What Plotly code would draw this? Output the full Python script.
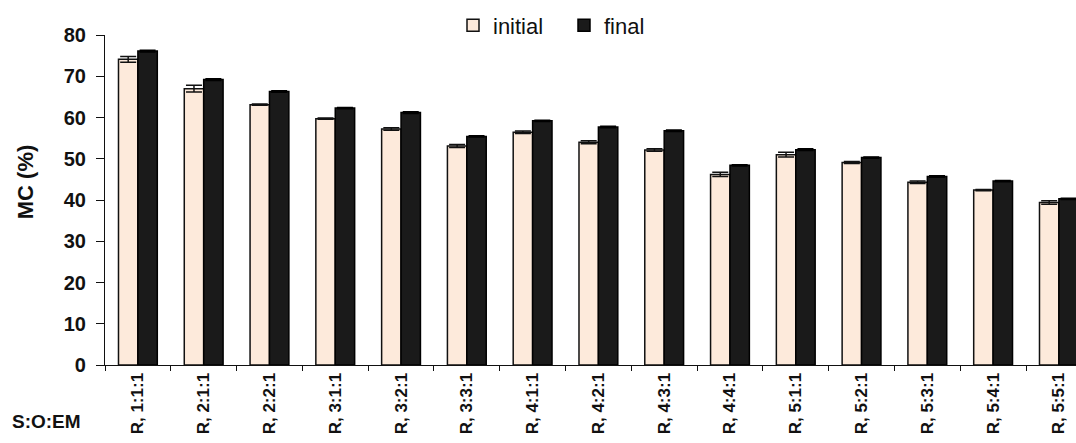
import plotly.graph_objects as go

categories = ["R, 1:1:1", "R, 2:1:1", "R, 2:2:1", "R, 3:1:1", "R, 3:2:1", "R, 3:3:1",
              "R, 4:1:1", "R, 4:2:1", "R, 4:3:1", "R, 4:4:1", "R, 5:1:1", "R, 5:2:1",
              "R, 5:3:1", "R, 5:4:1", "R, 5:5:1"]
initial = [74.1, 67.0, 63.1, 59.7, 57.2, 53.1, 56.4, 54.0, 52.1, 46.2, 51.0, 49.1, 44.3, 42.4, 39.4]
initial_err = [0.7, 0.8, 0.15, 0.15, 0.3, 0.35, 0.3, 0.35, 0.3, 0.5, 0.6, 0.25, 0.3, 0.15, 0.4]
final = [76.1, 69.2, 66.3, 62.3, 61.2, 55.4, 59.2, 57.7, 56.8, 48.4, 52.2, 50.3, 45.7, 44.6, 40.3]
final_err = [0.2, 0.2, 0.2, 0.15, 0.2, 0.15, 0.15, 0.2, 0.2, 0.15, 0.2, 0.15, 0.2, 0.15, 0.15]

L, T, B = 105, 34.5, 78
W, H = 1076, 443
pw = W - L
ph = H - T - B

def px(x):
    return (x - L) / pw

def py(y):
    return (H - B - y) / ph

fig = go.Figure()
fig.add_trace(go.Bar(
    x=categories, y=initial, name="initial",
    marker=dict(color="#FDEADB", line=dict(color="#111111", width=1.5)),
    error_y=dict(type="data", array=initial_err, color="#111111", thickness=1.5, width=8),
))
fig.add_trace(go.Bar(
    x=categories, y=final, name="final",
    marker=dict(color="#1a1a1a", line=dict(color="#000000", width=1.5)),
    error_y=dict(type="data", array=final_err, color="#000000", thickness=1.5, width=8),
))

fig.update_layout(
    width=W, height=H,
    margin=dict(l=L, r=0, t=T, b=B, pad=0, autoexpand=False),
    paper_bgcolor="white", plot_bgcolor="white",
    barmode="group", bargap=0.41, bargroupgap=0,
    font=dict(family="Liberation Sans, Arial, sans-serif", color="#111111"),
    showlegend=True,
    legend=dict(orientation="h", x=px(453), y=py(25), xanchor="left", yanchor="middle",
                font=dict(size=22, color="#111111"), bgcolor="rgba(0,0,0,0)",
                entrywidth=66, entrywidthmode="pixels", traceorder="normal"),
    annotations=[
        dict(text="<b>MC (%)</b>", x=px(25), y=py(182), xref="paper", yref="paper",
             showarrow=False, textangle=-90, font=dict(size=22, color="#111111"),
             xanchor="center", yanchor="middle"),
        dict(text="<b>S:O:EM</b>", x=px(46), y=py(422), xref="paper", yref="paper",
             showarrow=False, font=dict(size=19, color="#111111"),
             xanchor="center", yanchor="middle"),
    ],
)
fig.update_xaxes(
    range=[-0.5, 14.26], showline=True, linecolor="#111111", linewidth=1.2,
    ticks="outside", ticklen=5, tickcolor="#111111", tickwidth=1.2, tickson="boundaries",
    tickangle=-90, tickfont=dict(size=17, family="Liberation Sans, Arial", color="#111111", weight="bold"),
    showgrid=False, zeroline=False, automargin=False,
)
fig.update_yaxes(
    range=[0, 80], dtick=10, showline=True, linecolor="#111111", linewidth=1.2,
    ticks="outside", ticklen=8, tickcolor="#111111", tickwidth=1.2,
    tickfont=dict(size=20, family="Liberation Sans, Arial", color="#111111", weight="bold"),
    ticklabelstandoff=6, showgrid=False, zeroline=False, automargin=False,
)

fig.write_html("out.html")
